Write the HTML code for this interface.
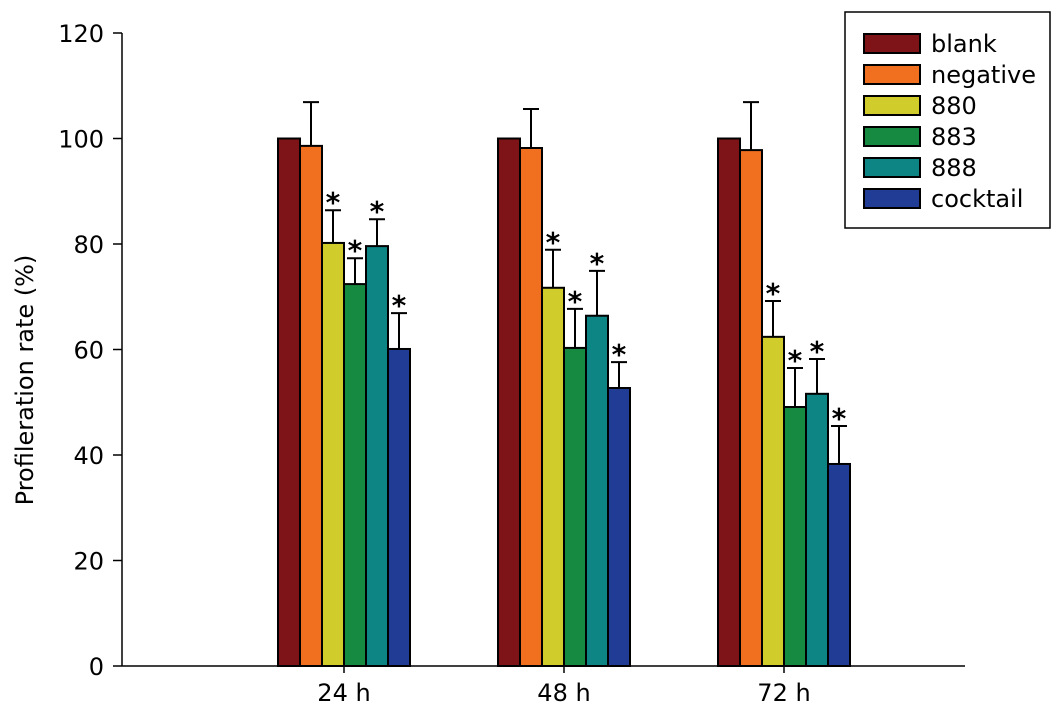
<!DOCTYPE html>
<html><head><meta charset="utf-8"><style>
body{margin:0;background:#fff}
svg text{font-family:"DejaVu Sans","Liberation Sans",sans-serif;fill:#000}
</style></head><body>
<svg id="c" width="1063" height="722"></svg>
<script>
const categories=["24 h","48 h","72 h"];
const seriesNames=["blank","negative","880","883","888","cocktail"];
const colors=["#7e1417","#f07020","#cfcc2c","#168a40","#0e8585","#203c94"];
const blankVals=[100,100,100];
const negativeVals=[98.6,98.2,97.8];
const v880=[80.2,71.7,62.4];
const v883=[72.4,60.3,49.1];
const v888=[79.6,66.4,51.6];
const cocktailVals=[60.1,52.7,38.3];
const negativeErr=[8.3,7.4,9.1];
const e880=[6.2,7.2,6.8];
const e883=[4.9,7.4,7.4];
const e888=[5.1,8.5,6.6];
const cocktailErr=[6.8,4.9,7.2];
const sig=[false,false,true,true,true,true];
const yTicks=[0,20,40,60,80,100,120];
const values=[blankVals,negativeVals,v880,v883,v888,cocktailVals];
const errs=[null,negativeErr,e880,e883,e888,cocktailErr];
const NS="http://www.w3.org/2000/svg";
const svg=document.getElementById('c');
function el(t,a,p){const e=document.createElementNS(NS,t);for(const k in a)e.setAttribute(k,a[k]);(p||svg).appendChild(e);return e;}
const y=v=>666-v*5.275;
const xc=i=>344+i*220;
const bw=22;
let ax=el('line',{x1:122,y1:33,x2:122,y2:666,stroke:'#000','stroke-width':1.5});

ax=el('line',{x1:122,y1:666,x2:965,y2:666,stroke:'#000','stroke-width':1.5});

yTicks.forEach(t=>{
 const l=el('line',{x1:113,y1:y(t),x2:122,y2:y(t),stroke:'#000','stroke-width':1.5});
 
 const tx=el('text',{x:104,y:y(t)+9,'text-anchor':'end','font-size':24});tx.textContent=t;
 
});
const yt=el('text',{transform:'translate(33,380) rotate(-90)','text-anchor':'middle','font-size':24});
yt.textContent='Profileration rate (%)';

categories.forEach((c,ci)=>{
 const tx=el('text',{x:xc(ci),y:701,'text-anchor':'middle','font-size':24});tx.textContent=c;
 
 const tk=el('line',{x1:xc(ci),y1:666,x2:xc(ci),y2:673,stroke:'#000','stroke-width':1.5});
 
 seriesNames.forEach((s,si)=>{
  const x0=xc(ci)-3*bw+si*bw;const v=values[si][ci];
  if(errs[si]){
   const et=y(v+errs[si][ci]);
   const g=el('path',{d:`M${x0+bw/2},${y(v)}V${et}M${x0+bw/2-8},${et}H${x0+bw/2+8}`,stroke:'#000','stroke-width':2,fill:'none'});
   
   if(sig[si]){const st=el('text',{x:x0+bw/2,y:et+2,'text-anchor':'middle','font-size':28,'font-weight':'bold'});st.textContent='*';
    }
  }
  const r=el('rect',{x:x0,y:y(v),width:bw,height:666-y(v),fill:colors[si],stroke:'#000','stroke-width':2});
  
 });
});
const lg=el('rect',{x:845,y:12,width:205,height:216,fill:'#fff',stroke:'#000','stroke-width':1.5});

seriesNames.forEach((s,si)=>{
 const cy=43+si*31;
 const r=el('rect',{x:864,y:cy-9,width:56,height:19,fill:colors[si],stroke:'#000','stroke-width':2});
 
 const t=el('text',{x:931,y:cy+9,'font-size':24});t.textContent=s;
 
});
</script>
</body></html>
